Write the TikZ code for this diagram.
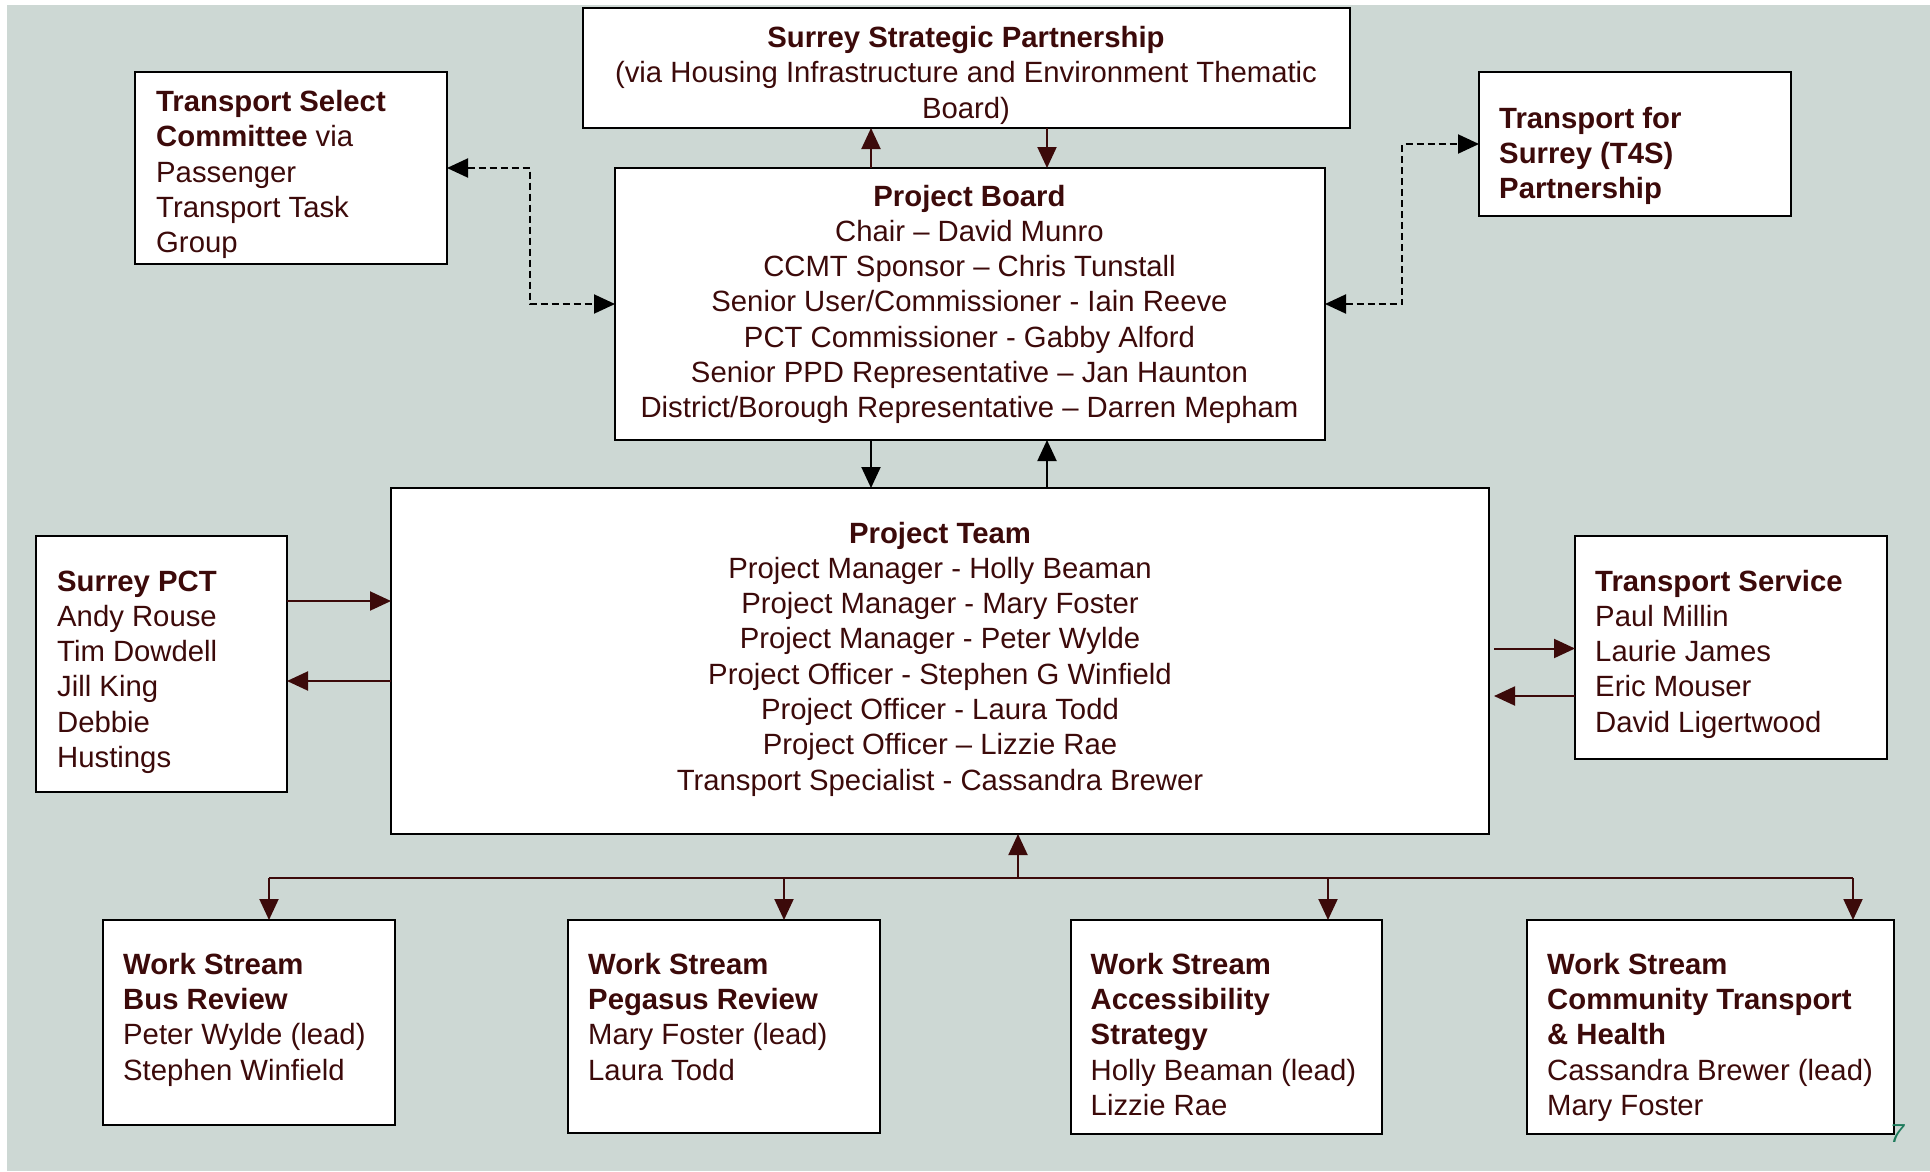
\documentclass[tikz,border=0pt]{standalone}
\usepackage{fontspec}
\setmainfont{Liberation Sans}
\usetikzlibrary{arrows.meta}
\definecolor{bgc}{HTML}{CDD8D4}
\definecolor{txt}{HTML}{3C0A0A}
\definecolor{pgc}{HTML}{1E7B5C}
\begin{document}
\begin{tikzpicture}[x=1pt,y=-1pt,
  every node/.style={font=\fontsize{29.3}{35.3}\selectfont, text=txt},
  box/.style={draw=black, fill=white, line width=2pt, inner sep=0pt, outer sep=0pt},
  ltxt/.style={anchor=base west, align=left, inner sep=0pt},
  ctxt/.style={anchor=base, align=center, inner sep=0pt},
  ln/.style={draw=txt, line width=2pt},
  arr/.style={ln, -{Triangle[length=21pt,width=19pt]}},
  barr/.style={draw=black, line width=2pt, -{Triangle[length=21pt,width=19pt]}},
  dsh/.style={draw=black, line width=2pt, dash pattern=on 7pt off 4pt, {Triangle[length=21pt,width=19pt]}-{Triangle[length=21pt,width=19pt]}}
]
\useasboundingbox (0,0) rectangle (1930,1171);
\fill[bgc] (7,5) rectangle (1930,1171);

% boxes
\node[box, minimum width=767pt, minimum height=120pt] (ssp) at (966.5,68) {};
\node[box, minimum width=312pt, minimum height=192.5pt] (tsc) at (291,168) {};
\node[box, minimum width=710pt, minimum height=272pt] (pb) at (970,304) {};
\node[box, minimum width=312pt, minimum height=144pt] (t4s) at (1635,144) {};
\node[box, minimum width=1098pt, minimum height=346pt] (pt) at (940,661) {};
\node[box, minimum width=251pt, minimum height=256pt] (pct) at (161.5,664) {};
\node[box, minimum width=312pt, minimum height=223pt] (ts) at (1731,647.5) {};
\node[box, minimum width=291.5pt, minimum height=204.6pt] (ws1) at (248.75,1022.3) {};
\node[box, minimum width=312pt, minimum height=213pt] (ws2) at (724,1026.5) {};
\node[box, minimum width=311pt, minimum height=214pt] (ws3) at (1226.5,1027) {};
\node[box, minimum width=367pt, minimum height=214pt] (ws4) at (1710.5,1027) {};

\node[text=pgc, inner sep=0pt, font=\fontsize{26}{26}\selectfont\itshape] (pgnum) at (1897,1134) {7};

% texts (anchored at the baseline of the last line)
\node[ctxt] (ssptxt) at (966,118)
  {\textbf{Surrey Strategic Partnership}\\(via Housing Infrastructure and Environment Thematic\\Board)};
\node[ltxt] (tsctxt) at (156,252.7)
  {\textbf{Transport Select}\\\textbf{Committee} via\\Passenger\\Transport Task\\Group};
\node[ctxt] (pbtxt) at (969.5,417.8)
  {\textbf{Project Board}\\Chair – David Munro\\CCMT Sponsor – Chris Tunstall\\Senior User/Commissioner - Iain Reeve\\PCT Commissioner - Gabby Alford\\Senior PPD Representative – Jan Haunton\\District/Borough Representative – Darren Mepham};
\node[ltxt] (t4stxt) at (1499,198.6)
  {\textbf{Transport for}\\\textbf{Surrey (T4S)}\\\textbf{Partnership}};
\node[ctxt] (pttxt) at (940,790.1)
  {\textbf{Project Team}\\Project Manager - Holly Beaman\\Project Manager - Mary Foster\\Project Manager - Peter Wylde\\Project Officer - Stephen G Winfield\\Project Officer - Laura Todd\\Project Officer – Lizzie Rae\\Transport Specialist - Cassandra Brewer};
\node[ltxt] (pcttxt) at (57,767.5)
  {\textbf{Surrey PCT}\\Andy Rouse\\Tim Dowdell\\Jill King\\Debbie\\Hustings};
\node[ltxt] (tstxt) at (1595,732.2)
  {\textbf{Transport Service}\\Paul Millin\\Laurie James\\Eric Mouser\\David Ligertwood};
\node[ltxt] (ws1txt) at (123,1080)
  {\textbf{Work Stream}\\\textbf{Bus Review}\\Peter Wylde (lead)\\Stephen Winfield};
\node[ltxt] (ws2txt) at (588,1080)
  {\textbf{Work Stream}\\\textbf{Pegasus Review}\\Mary Foster (lead)\\Laura Todd};
\node[ltxt] (ws3txt) at (1090.5,1115.3)
  {\textbf{Work Stream}\\\textbf{Accessibility}\\\textbf{Strategy}\\Holly Beaman (lead)\\Lizzie Rae};
\node[ltxt] (ws4txt) at (1547,1115.3)
  {\textbf{Work Stream}\\\textbf{Community Transport}\\\textbf{\& Health}\\Cassandra Brewer (lead)\\Mary Foster};

% helper coordinates
\coordinate (xa) at (871,0);
\coordinate (xb) at (1047,0);
\coordinate (dl) at (530,0);
\coordinate (dr) at (1402,0);
\coordinate (ya) at (0,601);
\coordinate (yb) at (0,681);
\coordinate (yc) at (0,648.5);
\coordinate (yd) at (0,696);
\coordinate (tsx) at (1494,0);
\coordinate (b1) at (269,878);
\coordinate (b2) at (784,878);
\coordinate (b3) at (1328,878);
\coordinate (b4) at (1853,878);
\coordinate (bc) at (1018,878);

% connectors
\draw[arr] (xa |- pb.north) -- (xa |- ssp.south);
\draw[arr] (xb |- ssp.south) -- (xb |- pb.north);
\draw[barr] (xa |- pb.south) -- (xa |- pt.north);
\draw[barr] (xb |- pt.north) -- (xb |- pb.south);
\draw[dsh] (tsc.east) -- (dl |- tsc.east) -- (dl |- pb.west) -- (pb.west);
\draw[dsh] (pb.east) -- (dr |- pb.east) -- (dr |- t4s.west) -- (t4s.west);
\draw[arr] (ya -| pct.east) -- (ya -| pt.west);
\draw[arr] (yb -| pt.west) -- (yb -| pct.east);
\draw[arr] (yc -| tsx) -- (yc -| ts.west);
\draw[arr] (yd -| ts.west) -- (yd -| tsx);
\draw[ln] (b1) -- (b4);
\draw[arr] (bc) -- (bc |- pt.south);
\draw[arr] (b1) -- (b1 |- ws1.north);
\draw[arr] (b2) -- (b2 |- ws2.north);
\draw[arr] (b3) -- (b3 |- ws3.north);
\draw[arr] (b4) -- (b4 |- ws4.north);
\end{tikzpicture}
\end{document}
